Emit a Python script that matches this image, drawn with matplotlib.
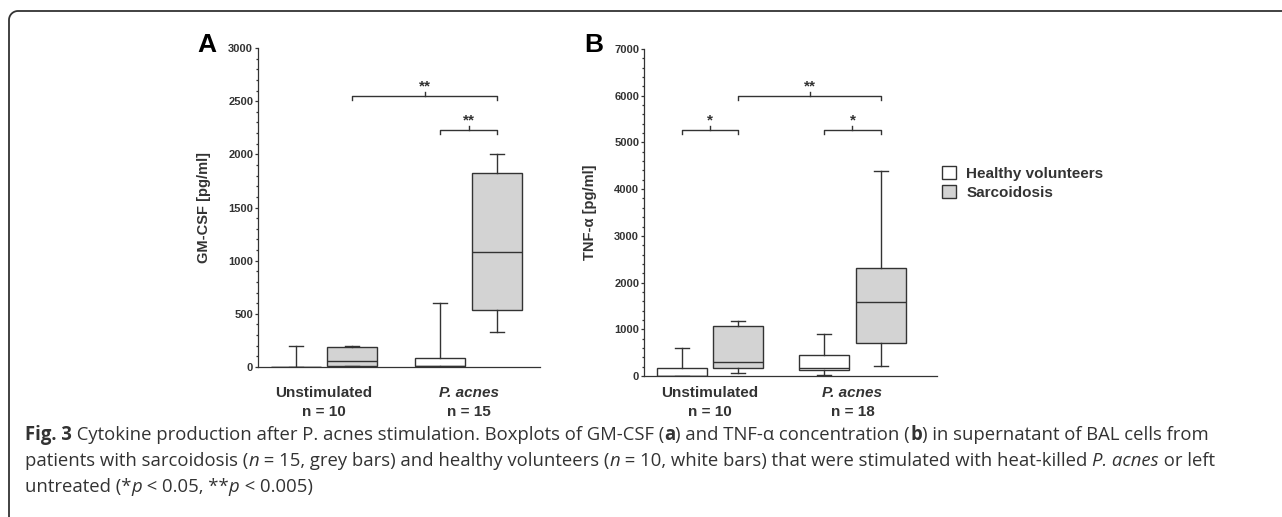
import matplotlib
matplotlib.use("Agg")
import numpy as np
import matplotlib.pyplot as plt
from matplotlib.patches import Patch

# ── Data ──────────────────────────────────────────────────────────────────────
groups = ["Unstimulated", "P. acnes"]
n_a = ["n = 10", "n = 15"]
n_b = ["n = 10", "n = 18"]

# GM-CSF [pg/ml]: healthy / sarcoidosis, unstimulated then P. acnes
gm_healthy_low = [0, 0]
gm_healthy_q1 = [0, 5]
gm_healthy_med = [0, 12]
gm_healthy_q3 = [0, 82]
gm_healthy_high = [200, 600]
gm_sarc_low = [5, 330]
gm_sarc_q1 = [12, 536]
gm_sarc_med = [56, 1080]
gm_sarc_q3 = [188, 1827]
gm_sarc_high = [200, 2000]

# TNF-alpha [pg/ml]
tnf_healthy_low = [0, 28]
tnf_healthy_q1 = [0, 128]
tnf_healthy_med = [5, 178]
tnf_healthy_q3 = [175, 450]
tnf_healthy_high = [600, 890]
tnf_sarc_low = [57, 221]
tnf_sarc_q1 = [164, 714]
tnf_sarc_med = [306, 1585]
tnf_sarc_q3 = [1078, 2319]
tnf_sarc_high = [1170, 4390]

# significance brackets: (box index from, box index to, height, label)
sig_a = [(1, 3, 2550, "**"), (2, 3, 2230, "**")]
sig_b = [(0, 1, 5270, "*"), (1, 3, 6000, "**"), (2, 3, 5270, "*")]

# ── Style ─────────────────────────────────────────────────────────────────────
W, H = 1282, 517
DARK = "#333333"
GREY = "#d3d3d3"
plt.rcParams["font.family"] = ["Liberation Sans", "DejaVu Sans"]
plt.rcParams["font.weight"] = "bold"

fig = plt.figure(figsize=(W / 100, H / 100), dpi=100)


def px_axes(x0, x1, y_top, y_bot):
    return fig.add_axes([x0 / W, 1 - y_bot / H, (x1 - x0) / W, (y_bot - y_top) / H])


def stats(low, q1, med, q3, high):
    return [dict(whislo=a, q1=b, med=c, q3=d, whishi=e, fliers=[])
            for a, b, c, d, e in zip(low, q1, med, q3, high)]


def draw_panel(ax, healthy, sarc, positions, xmax, ymax, major, minor,
               ylabel, n_labels, sigs, bracket_drop, label_px, height_px):
    # interleave: healthy unstim, sarc unstim, healthy pacnes, sarc pacnes
    boxes = [healthy[0], sarc[0], healthy[1], sarc[1]]
    fills = ["white", GREY, "white", GREY]
    lp = dict(color=DARK, linewidth=1.0)
    art = ax.bxp(boxes, positions=positions, widths=0.88, capwidths=0.25,
                 patch_artist=True, showfliers=False,
                 boxprops=dict(edgecolor=DARK, linewidth=1.0),
                 whiskerprops=lp, capprops=lp, medianprops=lp,
                 manage_ticks=False)
    for patch, c in zip(art["boxes"], fills):
        patch.set_facecolor(c)

    ax.set_xlim(0, xmax)
    ax.set_ylim(0, ymax)
    ax.set_yticks(range(0, ymax + 1, major))
    ax.set_yticks(range(0, ymax + 1, minor), minor=True)
    ax.tick_params(axis="y", which="major", length=2.5, width=0.9, color=DARK,
                   labelsize=8, labelcolor=DARK, pad=1)
    ax.tick_params(axis="y", which="minor", length=1.5, width=0.9, color=DARK)
    ax.set_xticks([])
    for s in ["top", "right"]:
        ax.spines[s].set_visible(False)
    for s in ["left", "bottom"]:
        ax.spines[s].set_color(DARK)
        ax.spines[s].set_linewidth(0.9)
    ax.set_ylabel(ylabel, fontsize=10.5, fontweight="bold", color=DARK,
                  labelpad=12)

    # group labels beneath axis
    centers = [(positions[0] + positions[1]) / 2, (positions[2] + positions[3]) / 2]
    for c, g, n in zip(centers, groups, n_labels):
        style = "italic" if g == "P. acnes" else "normal"
        ax.text(c, -label_px[0] / height_px, g, transform=ax.get_xaxis_transform(),
                ha="center", va="center", fontsize=11, fontstyle=style, color=DARK)
        ax.text(c, -label_px[1] / height_px, n, transform=ax.get_xaxis_transform(),
                ha="center", va="center", fontsize=11, color=DARK)

    # significance brackets
    for i, j, h, lab in sigs:
        x0, x1 = positions[i], positions[j]
        ax.plot([x0, x0, x1, x1], [h - bracket_drop, h, h, h - bracket_drop],
                color=DARK, lw=1.0, clip_on=False)
        xm = (x0 + x1) / 2
        ax.plot([xm, xm], [h, h + bracket_drop * 0.8], color=DARK, lw=1.0,
                clip_on=False)
        ax.text(xm, h + bracket_drop * 0.5, lab, ha="center", va="bottom",
                fontsize=11, color=DARK)


# ── Panel A ───────────────────────────────────────────────────────────────────
ax_a = px_axes(258, 540, 48, 367)
draw_panel(ax_a,
           stats(gm_healthy_low, gm_healthy_q1, gm_healthy_med, gm_healthy_q3, gm_healthy_high),
           stats(gm_sarc_low, gm_sarc_q1, gm_sarc_med, gm_sarc_q3, gm_sarc_high),
           [0.67, 1.67, 3.23, 4.24], 5.0, 3000, 500, 100,
           "GM-CSF [pg/ml]", n_a, sig_a, 40, (26, 45), 319)

# ── Panel B ───────────────────────────────────────────────────────────────────
ax_b = px_axes(644, 937, 49, 376)
draw_panel(ax_b,
           stats(tnf_healthy_low, tnf_healthy_q1, tnf_healthy_med, tnf_healthy_q3, tnf_healthy_high),
           stats(tnf_sarc_low, tnf_sarc_q1, tnf_sarc_med, tnf_sarc_q3, tnf_sarc_high),
           [0.67, 1.67, 3.19, 4.21], 5.2, 7000, 1000, 200,
           "TNF-α [pg/ml]", n_b, sig_b, 90, (17, 36), 327)

# legend
handles = [Patch(facecolor="white", edgecolor=DARK, linewidth=1.0),
           Patch(facecolor=GREY, edgecolor=DARK, linewidth=1.0)]
fig.legend(handles, ["Healthy volunteers", "Sarcoidosis"], loc="upper left",
           bbox_to_anchor=(942 / W, 1 - 166 / H), frameon=False, fontsize=11,
           handlelength=0.9, handleheight=0.9, handletextpad=0.7,
           labelspacing=0.3, borderpad=0, borderaxespad=0,
           labelcolor=DARK)

# ── Overlay: frame, panel letters, caption ───────────────────────────────────
ov = fig.add_axes([0, 0, 1, 1], zorder=-1)
ov.set_xlim(0, W)
ov.set_ylim(H, 0)
ov.axis("off")

# rounded top-left frame corner, open to the right and bottom
r = 9
theta = np.linspace(np.pi, 1.5 * np.pi, 20)
fx = np.concatenate([[9], 9 + r + r * np.cos(theta), [W + 20]])
fy = np.concatenate([[H + 20], 11 + r + r * np.sin(theta), [11]])
ov.plot(fx, fy, color=DARK, lw=1.3, clip_on=False, solid_joinstyle="round")

ov.text(197, 52, "A", fontsize=19, fontweight="bold", color="black",
        ha="left", va="baseline")
ov.text(584, 52, "B", fontsize=19, fontweight="bold", color="black",
        ha="left", va="baseline")

caption = [
    [("Fig. 3", "bold", "normal"),
     (" Cytokine production after P. acnes stimulation. Boxplots of GM-CSF (", "normal", "normal"),
     ("a", "bold", "normal"),
     (") and TNF-α concentration (", "normal", "normal"),
     ("b", "bold", "normal"),
     (") in supernatant of BAL cells from", "normal", "normal")],
    [("patients with sarcoidosis (", "normal", "normal"),
     ("n", "normal", "italic"),
     (" = 15, grey bars) and healthy volunteers (", "normal", "normal"),
     ("n", "normal", "italic"),
     (" = 10, white bars) that were stimulated with heat-killed ", "normal", "normal"),
     ("P. acnes", "normal", "italic"),
     (" or left", "normal", "normal")],
    [("untreated (*", "normal", "normal"),
     ("p", "normal", "italic"),
     (" < 0.05, **", "normal", "normal"),
     ("p", "normal", "italic"),
     (" < 0.005)", "normal", "normal")],
]
line_y = [435, 461, 487]

fig.canvas.draw()
renderer = fig.canvas.get_renderer()
for segs, y in zip(caption, line_y):
    x = 25
    for s, w, st in segs:
        t = ov.text(x, y, s, fontsize=13.35, fontweight=w, fontstyle=st,
                    family=["Open Sans", "DejaVu Sans"], color=DARK,
                    ha="left", va="center")
        bb = t.get_window_extent(renderer)
        x += bb.width

fig.savefig("out.png", dpi=100)
